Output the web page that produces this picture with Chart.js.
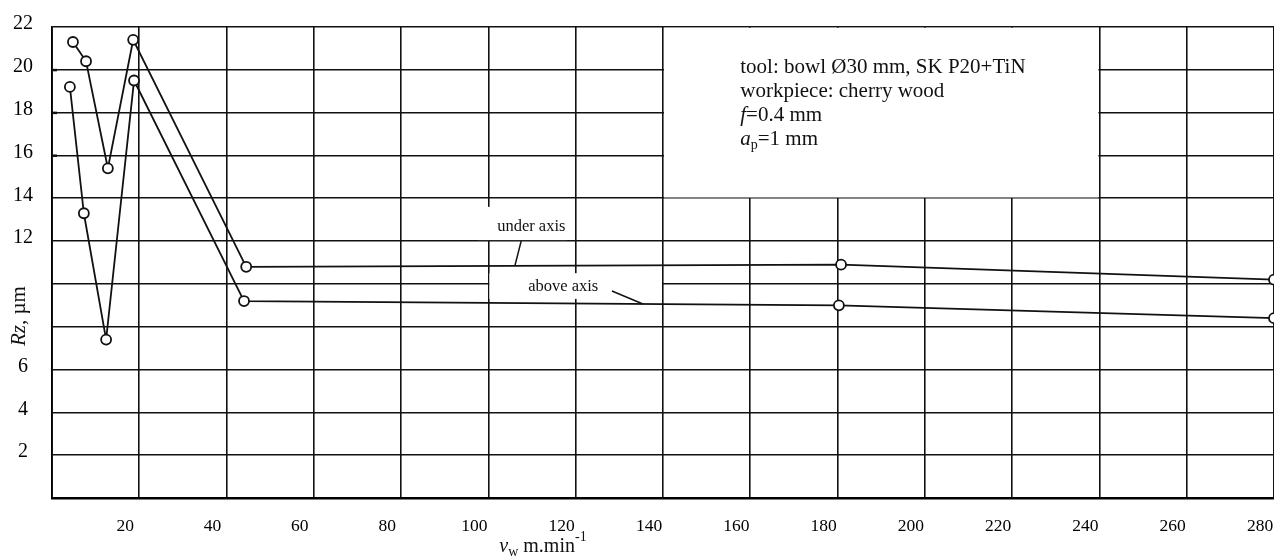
<!DOCTYPE html>
<html>
<head>
<meta charset="utf-8">
<title>Rz - vw</title>
<script src="https://cdn.jsdelivr.net/npm/chart.js@4.4.1/dist/chart.umd.min.js"></script>
<style>
    html, body { margin: 0; padding: 0; background: #fff; }
    #wrap { position: relative; width: 1274px; height: 556px; }
</style>
</head>
<body>
<div id="wrap"><canvas id="rz-chart"></canvas></div>
<script>
// cutting speed v_w (m/min) vs. roughness Rz (um)
var underX = [4.8, 7.8, 12.8, 18.6, 44.5, 180.8, 280];
var underY = [21.3, 20.4, 15.4, 21.4, 10.8, 10.9, 10.2];
var aboveX = [4.1, 7.3, 12.4, 18.8, 44.0, 180.3, 280];
var aboveY = [19.2, 13.3, 7.4, 19.5, 9.2, 9.0, 8.4];

var xTicks = [0, 20, 40, 60, 80, 100, 120, 140, 160, 180, 200, 220, 240, 260, 280];
var xTickLabels = ['', '20', '40', '60', '80', '100', '120', '140', '160', '180', '200', '220', '240', '260', '280'];
var yTicks = [0, 2, 4, 6, 8, 10, 12, 14, 16, 18, 20, 22];
var yTickLabels = ['', '2', '4', '6', '', '', '12', '14', '16', '18', '20', '22'];

(function() {
    'use strict';

    var SERIF = '"Liberation Serif", "Times New Roman", serif';
    var INK = '#111';

    function toPoints(xs, ys) {
        return xs.map(function(x, i) { return { x: x, y: ys[i] }; });
    }

    // draw a row of text pieces (italic / sub / sup), returns end x
    function drawRuns(ctx, x, y, runs, size) {
        runs.forEach(function(r) {
            var s = r.small ? Math.round(size * 0.68) : size;
            ctx.font = (r.italic ? 'italic ' : '') + s + 'px ' + SERIF;
            ctx.fillText(r.t, x, y + (r.dy || 0));
            x += ctx.measureText(r.t).width;
        });
        return x;
    }

    function runsWidth(ctx, runs, size) {
        var w = 0;
        runs.forEach(function(r) {
            var s = r.small ? Math.round(size * 0.68) : size;
            ctx.font = (r.italic ? 'italic ' : '') + s + 'px ' + SERIF;
            w += ctx.measureText(r.t).width;
        });
        return w;
    }

    var infoLines = [
        [{ t: 'tool: bowl Ø30 mm, SK P20+TiN' }],
        [{ t: 'workpiece: cherry wood' }],
        [{ t: 'f', italic: true }, { t: '=0.4 mm' }],
        [{ t: 'a', italic: true }, { t: 'p', small: true, dy: 4 }, { t: '=1 mm' }]
    ];

    var overlay = {
        id: 'overlay',
        beforeDatasetsDraw: function(chart) {
            var ctx = chart.ctx, xs = chart.scales.x, ys = chart.scales.y;
            var area = chart.chartArea;
            ctx.save();
            ctx.fillStyle = '#fff';
            // blank box for the test conditions
            var bx0 = xs.getPixelForValue(140) + 1, bx1 = xs.getPixelForValue(240) - 1;
            var by0 = area.top + 0.8, by1 = ys.getPixelForValue(14) - 0.8;
            ctx.fillRect(bx0, by0, bx1 - bx0, by1 - by0);
            // label backgrounds
            ctx.fillRect(xs.getPixelForValue(97.6), ys.getPixelForValue(13.6),
                xs.getPixelForValue(118) - xs.getPixelForValue(97.6), ys.getPixelForValue(12) - ys.getPixelForValue(13.6) - 1);
            ctx.fillRect(xs.getPixelForValue(100) + 1, ys.getPixelForValue(10.5),
                xs.getPixelForValue(140) - xs.getPixelForValue(100) - 2, ys.getPixelForValue(9.3) - ys.getPixelForValue(10.5));
            // small tick dashes on the left axis
            ctx.fillStyle = INK;
            [20, 18, 16].forEach(function(v) {
                ctx.fillRect(area.left, ys.getPixelForValue(v) - 1, 5, 2.5);
            });
            ctx.restore();
        },
        afterDatasetsDraw: function(chart) {
            var ctx = chart.ctx, xs = chart.scales.x, ys = chart.scales.y;
            ctx.save();
            ctx.fillStyle = INK;
            ctx.strokeStyle = INK;
            ctx.textBaseline = 'alphabetic';

            // conditions
            var ix = xs.getPixelForValue(157.7), iy = ys.getPixelForValue(19.85);
            infoLines.forEach(function(line, i) {
                drawRuns(ctx, ix, iy + i * 24, line, 21);
            });

            // series labels with leader lines
            ctx.font = '16.5px ' + SERIF;
            ctx.textBaseline = 'middle';
            ctx.fillText('under axis', xs.getPixelForValue(102), ys.getPixelForValue(12.66));
            ctx.fillText('above axis', xs.getPixelForValue(109.1), ys.getPixelForValue(9.86));
            ctx.lineWidth = 1.5;
            ctx.beginPath();
            ctx.moveTo(xs.getPixelForValue(107.5), ys.getPixelForValue(12.0));
            ctx.lineTo(xs.getPixelForValue(106.1), ys.getPixelForValue(10.88));
            ctx.moveTo(xs.getPixelForValue(128.3), ys.getPixelForValue(9.67));
            ctx.lineTo(xs.getPixelForValue(135.4), ys.getPixelForValue(9.06));
            ctx.stroke();

            // x axis title: v_w m.min^-1
            ctx.textBaseline = 'alphabetic';
            var xt = [{ t: 'v', italic: true }, { t: 'w', small: true, dy: 4 }, { t: ' m.min' }, { t: '-1', small: true, dy: -11 }];
            var w = runsWidth(ctx, xt, 20);
            drawRuns(ctx, xs.getPixelForValue(112.5) - w / 2, 552, xt, 20);

            // y axis title: Rz, um (rotated)
            var yt = [{ t: 'Rz', italic: true }, { t: ', µm' }];
            ctx.translate(19, ys.getPixelForValue(8.5));
            ctx.rotate(-Math.PI / 2);
            ctx.textBaseline = 'middle';
            var wy = runsWidth(ctx, yt, 21);
            drawRuns(ctx, -wy / 2, 0, yt, 21);
            ctx.restore();
        }
    };

    function initChart() {
        var ctx = document.getElementById('rz-chart').getContext('2d');
        var lineStyle = {
            borderColor: INK,
            borderWidth: 1.8,
            pointRadius: 5,
            pointBorderWidth: 1.8,
            pointBackgroundColor: '#fff',
            pointBorderColor: INK,
            fill: false,
            tension: 0
        };

        new Chart(ctx, {
            type: 'line',
            data: {
                datasets: [
                    Object.assign({ label: 'under axis', data: toPoints(underX, underY) }, lineStyle),
                    Object.assign({ label: 'above axis', data: toPoints(aboveX, aboveY) }, lineStyle)
                ]
            },
            options: {
                responsive: true,
                maintainAspectRatio: false,
                animation: false,
                layout: {
                    autoPadding: false,
                    padding: { top: 27, right: 0, bottom: 0, left: 0 }
                },
                plugins: {
                    legend: { display: false },
                    tooltip: { enabled: false }
                },
                scales: {
                    x: {
                        type: 'linear',
                        min: 0,
                        max: 280,
                        afterBuildTicks: function(scale) {
                            scale.ticks = xTicks.map(function(v) { return { value: v }; });
                        },
                        afterFit: function(scale) {
                            scale.height = 58;
                            scale.paddingLeft = 0;
                            scale.paddingRight = 0;
                        },
                        grid: { color: INK, lineWidth: 1.6, drawTicks: false },
                        border: { color: '#000', width: 2.5 },
                        ticks: {
                            autoSkip: false,
                            maxRotation: 0,
                            padding: 18,
                            labelOffset: -14,
                            color: '#000',
                            font: { family: SERIF, size: 17.5 },
                            callback: function(v) {
                                var i = xTicks.indexOf(v);
                                return i < 0 ? '' : xTickLabels[i];
                            }
                        }
                    },
                    y: {
                        type: 'linear',
                        min: 0,
                        max: 22,
                        afterBuildTicks: function(scale) {
                            scale.ticks = yTicks.map(function(v) { return { value: v }; });
                        },
                        afterFit: function(scale) {
                            scale.width = 52;
                            scale.paddingTop = 0;
                            scale.paddingBottom = 0;
                        },
                        grid: { color: INK, lineWidth: 1.6, drawTicks: false },
                        border: { color: '#000', width: 1.8 },
                        ticks: {
                            padding: 19,
                            crossAlign: 'center',
                            labelOffset: -3,
                            color: '#000',
                            font: { family: SERIF, size: 20 },
                            callback: function(v) {
                                var i = yTicks.indexOf(v);
                                return i < 0 ? '' : yTickLabels[i];
                            }
                        }
                    }
                }
            },
            plugins: [overlay]
        });
    }

    initChart();
})();
</script>
</body>
</html>
